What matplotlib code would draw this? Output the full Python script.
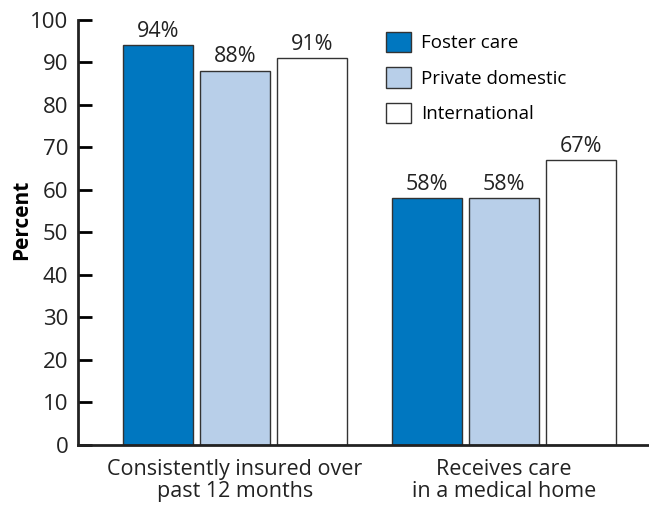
import matplotlib
matplotlib.use("Agg")
import matplotlib.pyplot as plt
from matplotlib.patches import Patch
import numpy as np

categories = ["Consistently insured over\npast 12 months", "Receives care\nin a medical home"]
series = ["Foster care", "Private domestic", "International"]
values = {
    "Foster care": [94, 58],
    "Private domestic": [88, 58],
    "International": [91, 67],
}
colors = ["#0077c0", "#b8cfe9", "#ffffff"]

plt.rcParams["font.family"] = ["Open Sans", "DejaVu Sans"]

fig = plt.figure(figsize=(6.49, 5.08), dpi=100)
ax = fig.add_axes([0.120, 0.124, 0.880, 0.837])

x = np.arange(len(categories))
width = 0.26
step = 0.286
edge = "#333333"

for i, name in enumerate(series):
    pos = x + (i - 1) * step
    bars = ax.bar(pos, values[name], width, color=colors[i], edgecolor=edge, linewidth=1.0)
    for b, v in zip(bars, values[name]):
        ax.text(b.get_x() + b.get_width() / 2, v + 0.8, f"{v}%", ha="center", va="bottom",
                fontsize=15.5, color="#222222")

ax.set_xlim(-0.584, 1.539)
ax.set_ylim(0, 100)
ax.set_yticks(range(0, 101, 10))
ax.set_xticks(x)
ax.set_xticklabels(categories, fontsize=15.5, color="#222222", linespacing=1.05)
ax.tick_params(axis="x", length=0, pad=10)
ax.tick_params(axis="y", direction="in", length=10, width=2, labelsize=16,
               labelcolor="#222222", pad=7)
ax.set_ylabel("Percent", fontsize=15, fontweight="bold")
ax.yaxis.set_label_coords(-0.08, 0.53)

for s in ["top", "right"]:
    ax.spines[s].set_visible(False)
for s in ["left", "bottom"]:
    ax.spines[s].set_linewidth(2)
    ax.spines[s].set_color("#222222")

handles = [Patch(facecolor=c, edgecolor=edge, linewidth=1.0) for c in colors]
ax.legend(handles, series, loc="upper left", bbox_to_anchor=(0.527, 0.99), frameon=False,
          fontsize=13.5, handlelength=1.3, handleheight=1.3, labelspacing=0.8,
          handletextpad=0.55, borderaxespad=0)

fig.savefig("out.png", dpi=100)
